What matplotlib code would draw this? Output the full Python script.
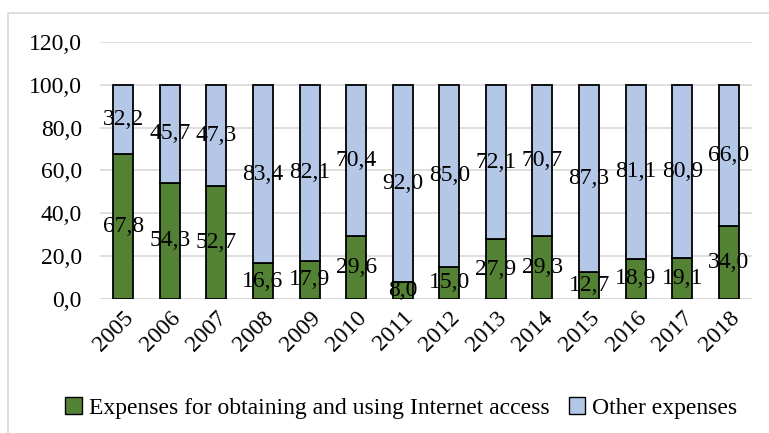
import matplotlib.pyplot as plt
from matplotlib.patches import Rectangle, Patch

years = [str(y) for y in range(2005, 2019)]
internet = [67.8, 54.3, 52.7, 16.6, 17.9, 29.6, 8.0, 15.0, 27.9, 29.3, 12.7, 18.9, 19.1, 34.0]
other = [32.2, 45.7, 47.3, 83.4, 82.1, 70.4, 92.0, 85.0, 72.1, 70.7, 87.3, 81.1, 80.9, 66.0]
yticks = [0, 20, 40, 60, 80, 100, 120]

GREEN = "#548235"
BLUE = "#B4C7E7"
FS = 17

plt.rcParams["font.family"] = ["Liberation Serif", "DejaVu Serif"]

fig = plt.figure(figsize=(7.69, 4.33), dpi=100)
ax = fig.add_axes([0.130, 0.3095, 0.848, 0.5935])

x = range(len(years))
w = 0.43
ax.bar(x, internet, width=w, color=GREEN, edgecolor="black", linewidth=1.3, zorder=3)
ax.bar(x, other, width=w, bottom=internet, color=BLUE, edgecolor="black", linewidth=1.3, zorder=3)

for i, (a, b) in enumerate(zip(internet, other)):
    ax.text(i, a / 2, f"{a:.1f}".replace(".", ","), ha="center", va="center", fontsize=FS, zorder=4)
    ax.text(i, a + b / 2, f"{b:.1f}".replace(".", ","), ha="center", va="center", fontsize=FS, zorder=4)

ax.set_xlim(-0.5, len(years) - 0.5)
ax.set_ylim(0, 120)
ax.set_yticks(yticks)
ax.set_yticklabels([f"{v:.1f}".replace(".", ",") for v in yticks], fontsize=FS)
ax.set_xticks(list(x))
ax.set_xticklabels(years, fontsize=FS, rotation=45, ha="right", rotation_mode="anchor")
ax.tick_params(length=0)
ax.tick_params(axis="y", pad=13)
ax.tick_params(axis="x", pad=6)
ax.yaxis.grid(True, color="#D9D9D9", linewidth=1.2, zorder=0)
ax.set_axisbelow(True)
for s in ax.spines.values():
    s.set_visible(False)
ax.axhline(0, color="#D9D9D9", linewidth=1.5, zorder=1)

handles = [Patch(facecolor=GREEN, edgecolor="black"), Patch(facecolor=BLUE, edgecolor="black")]
fig.legend(handles, ["Expenses for obtaining and using Internet access", "Other expenses"],
           loc="center", bbox_to_anchor=(0.522, 0.058), ncol=2, frameon=False, fontsize=FS,
           handlelength=0.7, handleheight=0.7, handletextpad=0.3, columnspacing=0.8)

fig.patches.append(Rectangle((8 / 769, -0.01), 1.0, 1 - 13 / 433 + 0.01, transform=fig.transFigure,
                             fill=False, edgecolor="#D9D9D9", linewidth=1.2))

fig.savefig("out.png", dpi=100)
